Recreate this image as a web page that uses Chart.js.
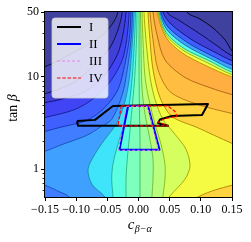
<!DOCTYPE html>
<html>
<head>
<meta charset="utf-8">
<script src="https://cdn.jsdelivr.net/npm/chart.js"></script>
<style>
  html, body { margin: 0; padding: 0; background: #fff; }
  canvas { display: block; }
</style>
</head>
<body>
<canvas id="chart" width="251" height="242"></canvas>
<script>
// ticks
const xTickValues = [-0.15, -0.10, -0.05, 0.00, 0.05, 0.10, 0.15];
const xTickLabels = ['\u22120.15', '\u22120.10', '\u22120.05', '0.00', '0.05', '0.10', '0.15'];
const yTickValues = [1, 10, 50];
const yTickLabels = ['1', '10', '50'];
const yMinorTicks = [0.6, 0.7, 0.8, 0.9, 2, 3, 4, 5, 6, 7, 8, 9, 20, 30, 40];

// contour lines as [c, tanb] points, from the top edge down
const k1 = [[-0.033, 50], [-0.043, 36.3], [-0.062, 26.9], [-0.094, 20.0], [-0.126, 15.2], [-0.150, 12.8], [-0.174, 11.3]];
const k2 = [[-0.026, 50], [-0.033, 32.0], [-0.046, 20.5], [-0.070, 13.5], [-0.102, 8.8], [-0.134, 7.07], [-0.150, 6.56], [-0.174, 6.1]];
const k3 = [[-0.020, 50], [-0.025, 28.3], [-0.034, 17.2], [-0.054, 10.5], [-0.086, 6.9], [-0.126, 5.66], [-0.150, 5.25], [-0.174, 5.0]];
const k4 = [[-0.015, 50], [-0.019, 25.0], [-0.026, 15.2], [-0.043, 9.3], [-0.070, 5.95], [-0.102, 4.42], [-0.150, 3.62], [-0.174, 3.37]];
const k5 = [[-0.012, 50], [-0.015, 25.0], [-0.022, 13.5], [-0.033, 7.25], [-0.054, 4.64], [-0.083, 3.37], [-0.126, 2.83], [-0.150, 2.56], [-0.174, 2.38]];
const k6Upper = [[-0.0096, 50], [-0.012, 25.0], [-0.018, 11.9], [-0.026, 6.4], [-0.043, 3.45], [-0.062, 2.83], [-0.083, 2.32], [-0.126, 1.81], [-0.150, 1.56], [-0.174, 1.41]];
const k6Lower = [[-0.174, 0.74], [-0.150, 0.67], [-0.126, 0.566], [-0.113, 0.513], [-0.102, 0.42]];
const k7 = [[-0.007, 50], [-0.0096, 25.0], [-0.015, 9.3], [-0.023, 5.0], [-0.036, 3.05], [-0.054, 2.10], [-0.070, 1.45], [-0.081, 1.00], [-0.075, 0.69], [-0.055, 0.513], [-0.046, 0.42]];
const k8 = [[-0.0048, 50], [-0.0064, 25.0], [-0.010, 10.0], [-0.015, 5.0], [-0.023, 3.05], [-0.033, 1.86], [-0.041, 1.13], [-0.043, 0.78], [-0.041, 0.513], [-0.041, 0.42]];
const k9 = [[-0.0024, 50], [-0.0032, 25.0], [-0.006, 10.0], [-0.009, 5.66], [-0.012, 3.45], [-0.015, 2.10], [-0.018, 1.28], [-0.020, 0.78], [-0.020, 0.513], [-0.020, 0.42]];
const k10 = [[0.001, 50], [0.001, 10], [0.0016, 4.42], [0.0024, 2.10], [0.0024, 1.0], [0.0024, 0.513], [0.0024, 0.42]];
const k11 = [[0.0032, 50], [0.004, 25.0], [0.0048, 10.0], [0.0072, 5.66], [0.012, 3.45], [0.0184, 2.10], [0.0233, 1.28], [0.0233, 0.78], [0.0217, 0.513], [0.0217, 0.42]];
const k12 = [[0.0056, 50], [0.0072, 25.0], [0.0104, 10.0], [0.0168, 5.66], [0.0265, 3.05], [0.0361, 1.86], [0.0425, 1.13], [0.0425, 0.78], [0.0393, 0.513], [0.0393, 0.42]];
const k13 = [[0.0088, 50], [0.012, 25.0], [0.0184, 10.0], [0.0265, 5.66], [0.0393, 3.45], [0.0586, 2.38], [0.0762, 1.64], [0.0826, 1.08], [0.0746, 0.78], [0.0505, 0.513], [0.0425, 0.42]];
const k14 = [[0.0152, 50], [0.0184, 25.0], [0.0233, 11.9], [0.0345, 5.95], [0.0537, 3.71], [0.0938, 2.83], [0.150, 1.90], [0.179, 1.60]];
const k14Corner = [[0.0794, 0.42], [0.0987, 0.513], [0.1227, 0.595], [0.150, 0.67], [0.179, 0.76]];
const k15 = [[0.0184, 50], [0.0233, 25.0], [0.0313, 11.9], [0.0505, 6.9], [0.0906, 5.12], [0.150, 4.0], [0.179, 3.71]];
const k16 = [[0.0233, 50], [0.0297, 28.3], [0.0425, 15.2], [0.0746, 9.8], [0.1147, 7.6], [0.150, 6.4], [0.179, 5.8]];

// upper right fall-off, from the ridge outwards
const ta = [[0.0297, 50], [0.0441, 26.6], [0.0698, 18.1], [0.1067, 13.3], [0.150, 9.9], [0.179, 8.8]];
const tb = [[0.0313, 50], [0.0441, 28.3], [0.0714, 19.3], [0.110, 14.2], [0.150, 10.5], [0.179, 9.5]];
const tc = [[0.0329, 50], [0.0441, 30.1], [0.0730, 20.2], [0.1131, 14.9], [0.150, 11.2], [0.179, 10.25]];
const td = [[0.0345, 50], [0.0457, 32.0], [0.0762, 21.6], [0.1163, 15.6], [0.150, 12.0], [0.179, 11.0]];
const te = [[0.0361, 50], [0.0473, 34.5], [0.0794, 23.2], [0.1179, 16.8], [0.150, 13.3], [0.179, 12.2]];
const tf = [[0.0393, 50], [0.0521, 37.1], [0.0858, 25.0], [0.1211, 18.6], [0.150, 14.9], [0.179, 13.5]];
const tg = [[0.0457, 50], [0.0666, 40.0], [0.0987, 29.0], [0.1259, 21.6], [0.150, 16.8], [0.179, 14.5]];
const th = [[0.0778, 50], [0.0987, 42.0], [0.1195, 33.6], [0.1388, 25.0], [0.150, 19.0], [0.171, 13.8]];

// regions
const regionLabels = ['I', 'II', 'III', 'IV'];
const regionI = [[-0.0987, 3.32], [-0.0971, 2.94], [0.0473, 2.94], [0.0313, 3.16], [0.0345, 3.45], [0.0537, 3.76], [0.1019, 3.85], [0.1115, 5.06], [-0.0409, 4.82], [-0.0473, 4.47], [-0.0698, 3.41], [-0.0987, 3.32]];
const regionII = [[-0.0168, 4.82], [0.0152, 4.82], [0.0337, 1.62], [-0.0305, 1.62], [-0.0168, 4.82]];
const regionIII = [[-0.020, 4.76], [0.0144, 4.76], [0.0321, 1.60], [-0.0321, 1.60], [-0.020, 4.76]];
const regionIV = [[-0.0278, 4.82], [0.0473, 4.82], [0.0586, 4.20], [0.0618, 3.71], [0.0425, 3.53], [0.0313, 3.24], [0.0473, 2.94], [-0.0329, 2.94], [-0.0278, 4.82]];

// colours
const levelFills = ['rgb(64,64,159)', 'rgb(64,64,185)', 'rgb(64,64,215)', 'rgb(64,68,245)', 'rgb(64,95,255)', 'rgb(64,125,255)',
  'rgb(64,160,255)', 'rgb(64,228,250)', 'rgb(90,255,225)', 'rgb(125,255,190)', 'rgb(155,255,160)', 'rgb(185,255,125)',
  'rgb(212,255,95)', 'rgb(245,250,66)', 'rgb(255,212,64)', 'rgb(255,190,64)', 'rgb(255,175,64)'];
const levelLines = [null, 'rgb(10,10,40)', 'rgb(10,10,60)', 'rgb(15,15,100)', 'rgb(20,30,140)', 'rgb(20,50,170)',
  'rgb(20,80,180)', 'rgb(20,140,160)', 'rgb(30,170,150)', 'rgb(50,180,120)', 'rgb(70,180,90)', 'rgb(110,185,50)',
  'rgb(140,180,20)', 'rgb(165,160,0)', 'rgb(175,130,0)', 'rgb(175,115,20)', 'rgb(170,100,20)'];
const regionStyles = [
  {color: '#000000', width: 2, dash: []},
  {color: '#0000ff', width: 2, dash: []},
  {color: '#ee82ee', width: 1, dash: [3, 2]},
  {color: '#ff0000', width: 1.2, dash: [3.5, 1.8]}
];

// outside anchors so that every band closes beyond the plot frame
const TOP = 80, BOT = 0.3, LEFT = -0.25, RIGHT = 0.25;
const exitLeft = l => [[RIGHT, TOP], [l[0][0], TOP], ...l, [LEFT, l[l.length - 1][1]], [LEFT, BOT], [RIGHT, BOT]];
const exitBottom = l => [[RIGHT, TOP], [l[0][0], TOP], ...l, [RIGHT, BOT]];
const exitRight = l => [[RIGHT, TOP], [l[0][0], TOP], ...l, [RIGHT, l[l.length - 1][1]]];

const bands = [
  {pts: [[RIGHT, TOP], [LEFT, TOP], [LEFT, BOT], [RIGHT, BOT]], lvl: 0},
  {pts: exitLeft(k1), lvl: 1},
  {pts: exitLeft(k2), lvl: 2},
  {pts: exitLeft(k3), lvl: 3},
  {pts: exitLeft(k4), lvl: 4},
  {pts: exitLeft(k5), lvl: 5},
  {pts: [[RIGHT, TOP], [k6Upper[0][0], TOP], ...k6Upper, [-0.2, 1.0], ...k6Lower, [RIGHT, BOT]], lvl: 6},
  {pts: exitBottom(k7), lvl: 7},
  {pts: exitBottom(k8), lvl: 8},
  {pts: exitBottom(k9), lvl: 9},
  {pts: exitBottom(k10), lvl: 10},
  {pts: exitBottom(k11), lvl: 11},
  {pts: exitBottom(k12), lvl: 12},
  {pts: exitBottom(k13), lvl: 13},
  {pts: exitRight(k14), lvl: 14},
  {pts: [[RIGHT, BOT], ...k14Corner, [RIGHT, k14Corner[k14Corner.length - 1][1]]], lvl: 14},
  {pts: exitRight(k15), lvl: 15},
  {pts: exitRight(k16), lvl: 16},
  {pts: exitRight(ta), lvl: 13, line: 'rgb(180,140,0)'},
  {pts: exitRight(tb), lvl: 11, line: 'rgb(140,180,20)'},
  {pts: exitRight(tc), lvl: 8, line: 'rgb(40,170,140)'},
  {pts: exitRight(td), lvl: 6, line: 'rgb(20,110,180)'},
  {pts: exitRight(te), lvl: 4, line: 'rgb(20,50,170)'},
  {pts: exitRight(tf), lvl: 2, line: 'rgb(15,15,110)'},
  {pts: exitRight(tg), lvl: 1, line: 'rgb(10,10,60)'},
  {pts: exitRight(th), lvl: 0, line: 'rgb(0,0,20)'}
];

const toXY = arr => arr.map(([x, y]) => ({x, y}));

const datasets = bands.map((b, i) => {
  const line = b.line || levelLines[b.lvl];
  return {
    data: toXY(b.pts),
    showLine: true,
    fill: 'shape',
    backgroundColor: levelFills[b.lvl],
    borderColor: line || 'rgba(0,0,0,0)',
    borderWidth: line ? 0.9 : 0,
    pointRadius: 0,
    tension: 0.3,
    clip: 0,
    order: 100 - i
  };
});

[regionI, regionII, regionIII, regionIV].forEach((r, i) => {
  const s = regionStyles[i];
  datasets.push({
    label: regionLabels[i],
    legend: true,
    data: toXY(r),
    showLine: true,
    fill: false,
    borderColor: s.color,
    borderWidth: s.width,
    borderDash: s.dash,
    borderJoinStyle: 'round',
    pointRadius: 0,
    tension: 0,
    clip: 0,
    order: 4 - i
  });
});

const serif = '"Liberation Serif", "DejaVu Serif", serif';

const decor = {
  id: 'decor',
  afterDraw(chart) {
    const {ctx, chartArea: a, scales: {y}} = chart;
    ctx.save();
    // frame
    ctx.strokeStyle = '#000';
    ctx.lineWidth = 1;
    ctx.strokeRect(a.left - 0.5, a.top - 0.5, a.right - a.left + 1, a.bottom - a.top + 1);
    // minor ticks on the log axis
    ctx.beginPath();
    for (const v of yMinorTicks) {
      const py = Math.round(y.getPixelForValue(v)) + 0.5;
      ctx.moveTo(a.left - 2.5, py);
      ctx.lineTo(a.left, py);
    }
    ctx.lineWidth = 0.8;
    ctx.stroke();

    // legend box
    const bx = 52, by = 18, bw = 56, bh = 80, r = 3;
    ctx.beginPath();
    ctx.moveTo(bx + r, by);
    ctx.arcTo(bx + bw, by, bx + bw, by + bh, r);
    ctx.arcTo(bx + bw, by + bh, bx, by + bh, r);
    ctx.arcTo(bx, by + bh, bx, by, r);
    ctx.arcTo(bx, by, bx + bw, by, r);
    ctx.closePath();
    ctx.fillStyle = 'rgba(255,255,255,0.8)';
    ctx.fill();
    ctx.strokeStyle = 'rgba(204,204,204,0.8)';
    ctx.lineWidth = 1;
    ctx.stroke();

    chart.data.datasets.filter(d => d.legend).forEach((d, i) => {
      const cy = by + 9 + i * 17;
      ctx.beginPath();
      ctx.setLineDash(d.borderDash);
      ctx.strokeStyle = d.borderColor;
      ctx.lineWidth = d.borderWidth;
      ctx.moveTo(bx + 5, cy);
      ctx.lineTo(bx + 29, cy);
      ctx.stroke();
      ctx.setLineDash([]);
      ctx.fillStyle = '#000';
      ctx.font = '13px ' + serif;
      ctx.textBaseline = 'middle';
      ctx.textAlign = 'left';
      ctx.fillText(d.label, bx + 37, cy + 0.5);
    });

    // x title: c with subscript
    ctx.fillStyle = '#000';
    ctx.textBaseline = 'alphabetic';
    ctx.textAlign = 'left';
    ctx.font = 'italic 15px ' + serif;
    const cw = ctx.measureText('c').width;
    ctx.font = 'italic 10px ' + serif;
    const sub = '\u03b2\u2212\u03b1';
    const sw = ctx.measureText(sub).width;
    const x0 = (a.left + a.right) / 2 + 1 - (cw + sw) / 2;
    ctx.font = 'italic 15px ' + serif;
    ctx.fillText('c', x0, 229);
    ctx.font = 'italic 10px ' + serif;
    ctx.fillText(sub, x0 + cw + 0.5, 232);

    // y title
    ctx.save();
    ctx.translate(17, 108);
    ctx.rotate(-Math.PI / 2);
    ctx.font = '14px ' + serif;
    const tw = ctx.measureText('tan ').width;
    ctx.font = 'italic 14px ' + serif;
    const bw2 = ctx.measureText('\u03b2').width;
    const s0 = -(tw + bw2) / 2;
    ctx.font = '14px ' + serif;
    ctx.fillText('tan ', s0, 0);
    ctx.font = 'italic 14px ' + serif;
    ctx.fillText('\u03b2', s0 + tw, 0);
    ctx.restore();

    ctx.restore();
  }
};

const tickFont = {family: serif, size: 12};

new Chart(document.getElementById('chart'), {
  type: 'scatter',
  data: {datasets},
  options: {
    responsive: false,
    animation: false,
    devicePixelRatio: 1,
    layout: {padding: {left: 0, right: 19, top: 12, bottom: 0}},
    elements: {line: {capBezierPoints: false}},
    plugins: {legend: {display: false}, tooltip: {enabled: false}},
    scales: {
      x: {
        type: 'linear',
        min: -0.15,
        max: 0.15,
        afterBuildTicks: s => { s.ticks = xTickValues.map(v => ({value: v})); },
        afterFit: s => { s.height = 45; },
        ticks: {callback: (v, i) => xTickLabels[i], autoSkip: false, maxRotation: 0, font: tickFont, color: '#000', padding: 2},
        grid: {drawOnChartArea: false, drawTicks: true, tickLength: 4, color: '#000', lineWidth: 1},
        border: {display: false}
      },
      y: {
        type: 'logarithmic',
        min: 0.5,
        max: 50,
        afterBuildTicks: s => { s.ticks = yTickValues.map(v => ({value: v})); },
        afterFit: s => { s.width = 45; },
        ticks: {callback: (v, i) => yTickLabels[i], font: tickFont, color: '#000', padding: 2},
        grid: {drawOnChartArea: false, drawTicks: true, tickLength: 4, color: '#000', lineWidth: 1},
        border: {display: false}
      }
    }
  },
  plugins: [decor]
});
</script>
</body>
</html>
